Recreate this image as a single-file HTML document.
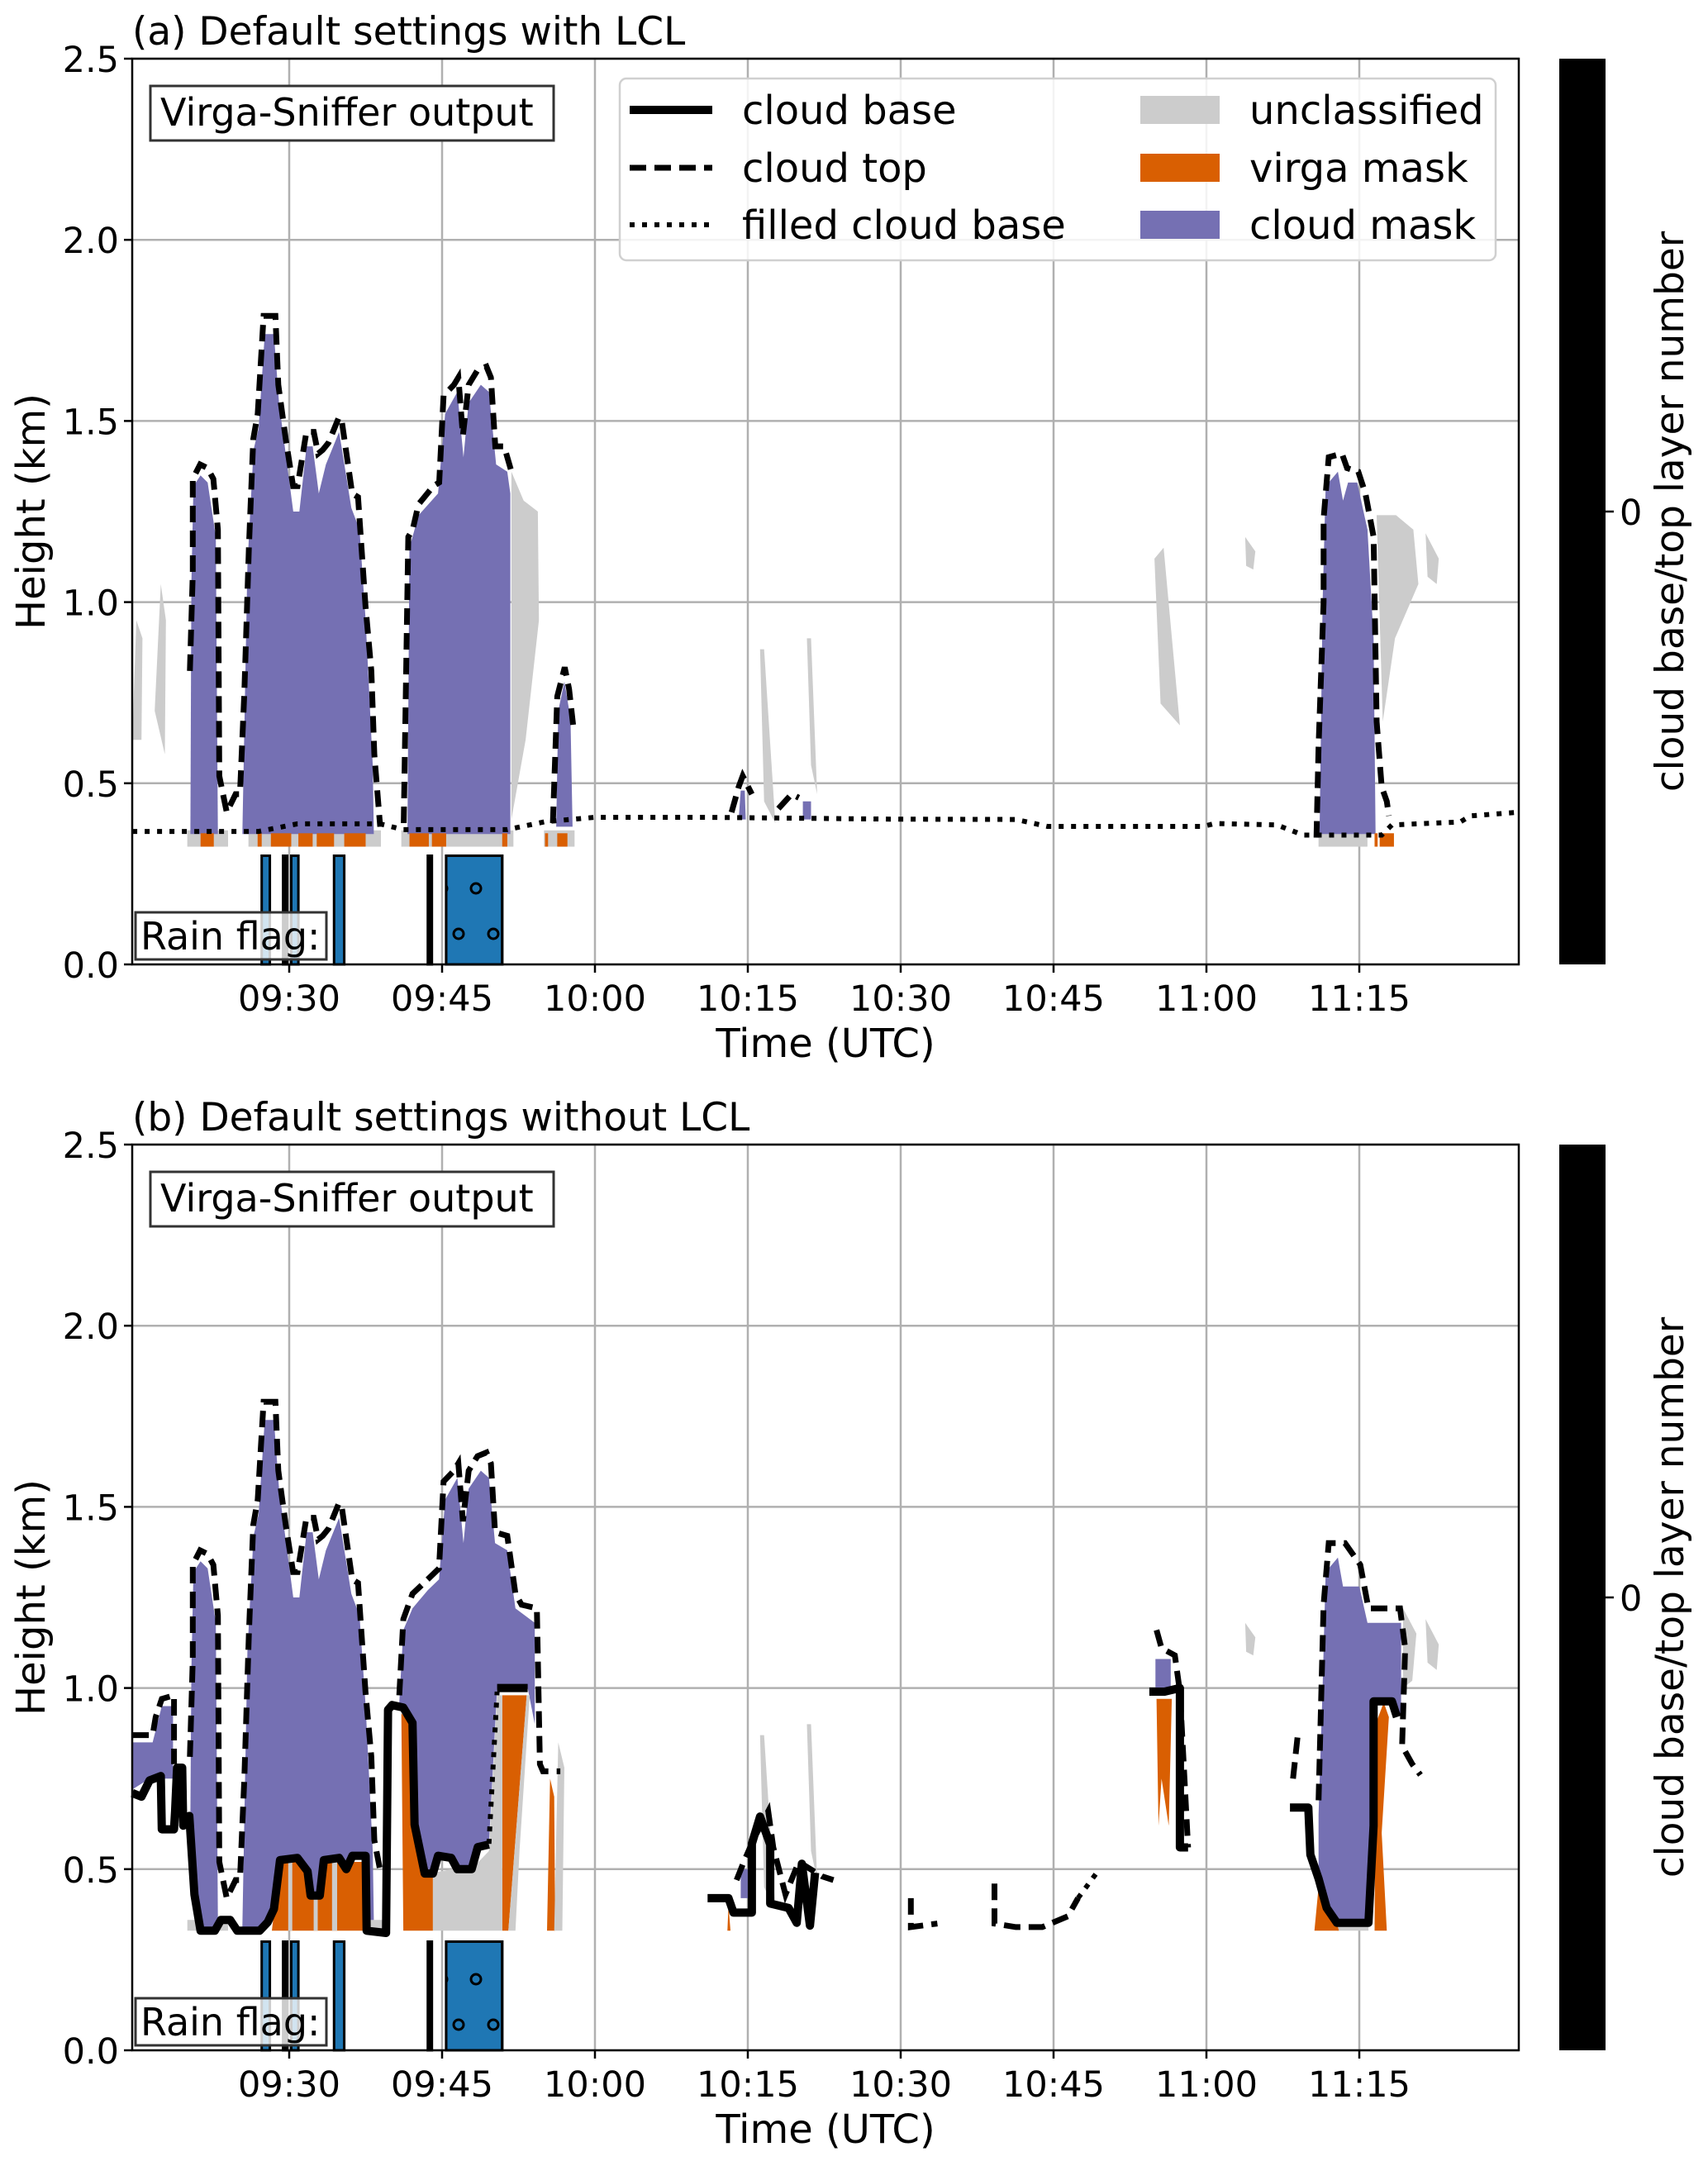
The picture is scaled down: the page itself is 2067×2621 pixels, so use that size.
<!DOCTYPE html>
<html><head><meta charset="utf-8"><style>
html,body{margin:0;padding:0;background:#fff;}
svg{display:block;font-family:"DejaVu Sans","Liberation Sans",sans-serif;}
</style></head><body>
<svg id="fig" width="2067" height="2621" viewBox="0 0 2067 2621" xmlns="http://www.w3.org/2000/svg">
<defs>
<pattern id="dots" width="84" height="110" patternUnits="userSpaceOnUse" x="535" y="0">
<circle cx="20" cy="30" r="6" fill="none" stroke="#000" stroke-width="3"/>
<circle cx="62" cy="30" r="6" fill="none" stroke="#000" stroke-width="3"/>
<circle cx="41" cy="85" r="6" fill="none" stroke="#000" stroke-width="3"/>
<circle cx="0" cy="85" r="6" fill="none" stroke="#000" stroke-width="3"/>
<circle cx="84" cy="85" r="6" fill="none" stroke="#000" stroke-width="3"/>
</pattern>
</defs>
</svg>
<script>
// ---------- data (time in minutes after 09:00, height in km) ----------
const xTickVals = [30,45,60,75,90,105,120,135];
const xTickLabels = ["09:30","09:45","10:00","10:15","10:30","10:45","11:00","11:15"];
const yTickVals = [0,0.5,1.0,1.5,2.0,2.5];
const yTickLabels = ["0.0","0.5","1.0","1.5","2.0","2.5"];

// panel a
const topA = [
 [[20.25,0.81],[20.54,1.08],[20.54,1.34],[21.26,1.38],[21.98,1.37],[22.56,1.34],[23.0,1.20],[23.14,0.52],[23.87,0.42],[24.74,0.47],[25.17,0.47],[25.6,0.75],[26.04,1.15],[26.47,1.45],[26.91,1.52],[27.49,1.79],[28.65,1.79],[28.93,1.60],[29.66,1.45],[30.38,1.32],[30.82,1.32],[31.69,1.47],[32.41,1.47],[32.84,1.41],[33.28,1.42],[33.86,1.44],[34.87,1.51],[35.16,1.50],[36.18,1.30],[36.75,1.29],[37.48,0.99],[38.06,0.81],[38.35,0.58],[38.93,0.38]],
 [[41.24,0.39],[41.68,1.18],[42.11,1.20],[42.69,1.27],[43.56,1.30],[44.14,1.32],[44.72,1.33],[45.15,1.57],[46.17,1.60],[46.6,1.62],[47.04,1.46],[47.61,1.60],[48.48,1.64],[49.35,1.65],[49.79,1.62],[50.22,1.43],[51.09,1.43],[51.81,1.36]],
 [[55.87,0.39],[56.3,0.74],[57.03,0.82],[57.46,0.76],[57.9,0.65]],
 [[73.4,0.42],[74.1,0.49],[74.5,0.52],[75.4,0.47]],
 [[78,0.43],[79.3,0.47],[80,0.46]],
 [[130.8,0.35],[131.0,0.60],[131.5,1.0],[131.5,1.23],[132.0,1.40],[133.3,1.41],[133.8,1.37],[134.9,1.36],[135.6,1.30],[136.4,1.18],[136.7,0.67],[137.2,0.49],[137.7,0.45],[137.9,0.41]]
];
const maskA = [
 [[20.3,0.36],[20.4,1.05],[20.6,1.32],[21.3,1.35],[22,1.33],[22.8,1.18],[23.0,0.36]],
 [[25.4,0.36],[25.9,1.1],[26.5,1.42],[27.0,1.48],[27.6,1.74],[28.5,1.74],[29.0,1.55],[29.7,1.40],[30.4,1.25],[31.0,1.25],[31.7,1.43],[32.3,1.43],[32.9,1.30],[33.6,1.38],[34.9,1.47],[36.1,1.26],[36.9,1.2],[37.5,0.95],[38.2,0.55],[38.3,0.36]],
 [[41.6,0.36],[41.8,1.15],[42.7,1.24],[44.6,1.30],[45.3,1.52],[46.5,1.58],[47.1,1.40],[47.6,1.55],[48.8,1.6],[49.6,1.58],[50.3,1.38],[51.4,1.36],[51.7,1.3],[51.7,0.36]],
 [[56.2,0.38],[56.4,0.7],[57.0,0.78],[57.6,0.68],[57.8,0.38]],
 [[131.1,0.36],[131.4,1.0],[131.7,1.32],[132.9,1.36],[133.4,1.28],[133.9,1.33],[134.8,1.33],[135.8,1.20],[136.4,0.9],[136.6,0.36]],
 [[74.1,0.40],[74.3,0.48],[74.7,0.48],[74.8,0.40]],
 [[80.4,0.40],[80.4,0.45],[81.2,0.45],[81.2,0.40]]
];
const filledBaseA = [[14.6,0.367],[27,0.367],[30.8,0.388],[38.9,0.388],[41.2,0.372],[51.4,0.372],[55.1,0.394],[60,0.406],[71,0.406],[89,0.401],[101.3,0.40],[104.4,0.381],[119.7,0.381],[120.8,0.389],[126.9,0.385],[129.5,0.357],[137.2,0.357],[138.2,0.385],[144.9,0.393],[145.9,0.41],[150.6,0.42]];
const virgaA = [[21.3,22.6],[26.9,27.3],[28.2,30.2],[30.9,32.3],[32.7,34.4],[35.4,37.5],[41.8,43.7],[44.0,45.4],[50.9,51.4],[55.1,55.4],[56.3,57.3],[136.5,136.8],[137.0,138.4]];
const greyStripA = [[20,24],[26,39],[41,52],[55,58],[131,135.8]];
const greyPatchA = [
 [[14.6,0.62],[15.0,0.95],[15.6,0.90],[15.5,0.62]],
 [[16.8,0.70],[17.4,1.05],[17.9,0.95],[17.8,0.58]],
 [[51.8,1.36],[53.0,1.28],[54.4,1.25],[54.5,0.95],[53.2,0.62],[51.8,0.40]],
 [[76.2,0.87],[76.6,0.87],[77.7,0.39],[76.6,0.45]],
 [[80.8,0.90],[81.2,0.90],[81.8,0.47],[81.2,0.55]],
 [[114.9,1.12],[115.8,1.15],[117.4,0.66],[115.5,0.72]],
 [[123.8,1.18],[124.8,1.14],[124.6,1.09],[123.9,1.10]],
 [[136.7,1.24],[138.6,1.24],[140.3,1.20],[140.8,1.05],[138.5,0.90],[137.3,0.67]],
 [[141.5,1.19],[142.8,1.12],[142.6,1.05],[141.7,1.07]]
];

// panel b
const topB = [
 [[14.6,0.87],[16.6,0.87],[16.9,0.92],[17.5,0.97],[18.7,0.98],[18.7,0.79]],
 [[20.25,0.81],[20.54,1.08],[20.54,1.34],[21.26,1.38],[21.98,1.37],[22.56,1.34],[23.0,1.20],[23.14,0.52],[23.87,0.42],[24.74,0.47],[25.17,0.47],[25.6,0.75],[26.04,1.15],[26.47,1.45],[26.91,1.52],[27.49,1.79],[28.65,1.79],[28.93,1.60],[29.66,1.45],[30.38,1.32],[30.82,1.32],[31.69,1.47],[32.41,1.47],[32.84,1.41],[33.28,1.42],[33.86,1.44],[34.87,1.51],[35.16,1.50],[36.18,1.30],[36.75,1.29],[37.48,0.99],[38.06,0.81],[38.35,0.58],[38.9,0.50]],
 [[40.8,0.98],[41.2,1.19],[42.1,1.26],[43.6,1.30],[44.7,1.33],[45.15,1.57],[46.17,1.60],[46.6,1.62],[47.04,1.46],[47.61,1.60],[48.48,1.64],[49.35,1.65],[49.79,1.62],[50.2,1.43],[51.4,1.42],[52.2,1.26],[52.8,1.23],[54.3,1.22],[54.6,0.79],[54.9,0.77],[56.6,0.77]],
 [[73.9,0.47],[74.6,0.52],[75.7,0.59],[77,0.66],[77.5,0.56],[78.7,0.43],[80,0.52],[82.3,0.48],[83.4,0.47]],
 [[91,0.42],[91,0.34],[93.6,0.35]],
 [[99.2,0.46],[99.2,0.35],[101.3,0.34],[103.9,0.34],[106.4,0.37],[107.4,0.42]],
 [[115.1,1.16],[115.6,1.11],[116.9,1.09],[117.4,0.99],[118.2,0.56]],
 [[128.5,0.75],[129,0.88]],
 [[131,0.69],[131.5,1.23],[132,1.40],[133.6,1.40],[135.1,1.34],[135.9,1.22],[136.7,1.22],[139,1.22],[139.5,1.11],[139.2,0.84],[140.2,0.79],[141,0.76]]
];
const baseB = [
 [[14.6,0.71],[15.5,0.70],[16.3,0.745],[17.4,0.757],[17.5,0.61],[18.7,0.61],[18.8,0.66],[19,0.78],[19.5,0.78],[19.6,0.62],[20.2,0.647],[20.7,0.43],[21.3,0.33],[22.7,0.33],[23.3,0.36],[24.2,0.36],[24.9,0.33],[27.1,0.33],[27.9,0.354],[28.5,0.39],[29.1,0.525],[30.8,0.531],[31.8,0.494],[32.1,0.427],[33,0.427],[33.4,0.525],[34.9,0.531],[35.6,0.50],[36.2,0.537],[37.5,0.537],[37.6,0.33],[39.5,0.324],[39.7,0.94],[40.1,0.953],[41.2,0.946],[42.1,0.904],[42.3,0.623],[43.3,0.488],[44.1,0.488],[44.6,0.537],[45.9,0.531],[46.5,0.50],[47.9,0.50],[48.5,0.561],[49.6,0.568]],
 [[50.4,1.0],[53.4,1.0]],
 [[71.05,0.42],[73.1,0.42],[73.6,0.38],[75.4,0.38],[75.4,0.57],[76.2,0.645],[77.2,0.568],[77.2,0.405],[79,0.393],[79.8,0.352],[80.3,0.515],[81.1,0.344],[81.6,0.49]],
 [[114.4,0.99],[115.9,0.99],[117.4,1.0],[117.4,0.56],[118.2,0.56]],
 [[128.2,0.67],[130,0.67],[130.2,0.54],[131,0.474],[131.8,0.393],[132.8,0.352],[135.9,0.352],[136.4,0.62],[136.4,0.963],[138.2,0.963],[138.7,0.92]]
];
const filledBaseB = [
 [[49.6,0.57],[50.4,0.99]],
 [[107.4,0.42],[109.5,0.50]]
];
const maskB = [
 [[14.6,0.85],[16.6,0.85],[17.5,0.95],[18.6,0.95],[18.6,0.75],[17.5,0.75],[16.3,0.75],[14.6,0.72]],
 [[20.3,0.65],[20.4,1.05],[20.6,1.32],[21.3,1.35],[22,1.33],[22.8,1.18],[23.0,0.36],[22.7,0.34],[21.3,0.34],[20.7,0.43]],
 [[25.4,0.34],[25.9,1.1],[26.5,1.42],[27.0,1.48],[27.6,1.74],[28.5,1.74],[29.0,1.55],[29.7,1.40],[30.4,1.25],[31.0,1.25],[31.7,1.43],[32.3,1.43],[32.9,1.30],[33.6,1.38],[34.9,1.47],[36.1,1.26],[36.9,1.2],[37.5,0.95],[38.2,0.55],[38.3,0.36],[37.5,0.34],[37.5,0.54],[36.2,0.54],[35.6,0.50],[34.9,0.53],[33.4,0.53],[33,0.43],[32.1,0.43],[31.8,0.49],[30.8,0.53],[29.1,0.53],[28.5,0.39],[27.9,0.35],[27.1,0.34]],
 [[40.8,0.96],[41.2,1.16],[42.1,1.22],[43.6,1.27],[44.7,1.30],[45.3,1.52],[46.5,1.58],[47.1,1.40],[47.6,1.55],[48.8,1.6],[49.6,1.58],[50.2,1.40],[51.4,1.38],[52.2,1.22],[54.1,1.18],[54.1,0.90],[53.4,1.0],[50.4,1.0],[49.6,0.57],[48.5,0.56],[47.9,0.50],[46.5,0.50],[45.9,0.53],[44.6,0.53],[44.1,0.49],[43.3,0.49],[42.3,0.62],[42.1,0.90],[41.2,0.95]],
 [[74.3,0.42],[74.3,0.50],[75.0,0.50],[75.0,0.42]],
 [[115.0,1.0],[115.0,1.08],[116.5,1.08],[116.5,0.99]],
 [[131.0,0.65],[131.4,1.0],[131.7,1.32],[132.9,1.36],[133.4,1.28],[135.0,1.28],[135.8,1.18],[136.7,1.18],[139.1,1.18],[139.1,0.92],[138.2,0.96],[136.4,0.96],[136.4,0.62],[135.9,0.36],[132.8,0.36],[131.8,0.40],[131,0.47]]
];
const virgaB = [
 [[28.3,0.33],[28.8,0.45],[29.1,0.52],[30.8,0.52],[31.8,0.49],[32.1,0.43],[33,0.43],[33.4,0.52],[37.5,0.52],[37.5,0.33]],
 [[41.2,0.33],[41.0,0.93],[42.0,0.90],[42.3,0.62],[43.3,0.49],[44.1,0.49],[44.1,0.33]],
 [[50.9,0.33],[50.9,0.98],[53.3,0.98],[51.5,0.33]],
 [[55.3,0.33],[55.6,0.75],[56.0,0.70],[56.1,0.33]],
 [[115.1,0.97],[116.6,0.97],[116.3,0.62],[115.6,0.75],[115.3,0.62]],
 [[130.6,0.33],[131.0,0.45],[131.8,0.38],[132.8,0.35],[133,0.33]],
 [[136.5,0.33],[136.6,0.9],[137.4,0.96],[137.9,0.92],[137.2,0.6],[137.7,0.33]],
 [[73.0,0.33],[73.1,0.40],[73.3,0.33]]
];
const greyB = [
 [[44.1,0.33],[44.1,0.49],[46,0.50],[47.9,0.50],[49.6,0.55],[50.4,0.98],[50.9,0.98],[50.9,0.33]],
 [[51.5,0.33],[53.3,0.98],[53.6,0.98],[52.6,0.55],[52.2,0.33]],
 [[29.9,0.33],[29.9,0.52],[30.3,0.52],[30.3,0.33]],
 [[32.4,0.33],[32.4,0.43],[32.8,0.43],[32.8,0.33]],
 [[34.2,0.33],[34.2,0.52],[34.7,0.52],[34.7,0.33]],
 [[37.5,0.33],[37.5,0.36],[39.5,0.36],[39.5,0.33]],
 [[56.0,0.33],[56.4,0.85],[57.0,0.78],[56.8,0.33]],
 [[76.2,0.87],[76.6,0.87],[77.7,0.39],[76.6,0.45]],
 [[80.8,0.90],[81.2,0.90],[81.8,0.47],[81.2,0.55]],
 [[123.8,1.18],[124.8,1.14],[124.6,1.09],[123.9,1.10]],
 [[139.3,1.22],[140.6,1.15],[140.2,1.02],[139.3,1.0]],
 [[141.5,1.19],[142.8,1.12],[142.6,1.05],[141.7,1.07]],
 [[132.8,0.33],[132.8,0.36],[135.9,0.36],[135.9,0.33]],
 [[20,0.33],[20,0.36],[24,0.36],[24,0.33]]
];
const rainBars = [[27.3,28.1],[29.4,29.8],[30.2,30.9],[34.4,35.4],[43.6,44.0],[45.4,50.9]];
const rainTop = 0.3;

// ---------- drawing ----------
const NS = "http://www.w3.org/2000/svg";
const svg = document.getElementById("fig");
const X0 = 160, X1 = 1838;
function xs(t){ return 350 + (t-30)*185/15; }
function mk(tag, attrs, parent){
  const e = document.createElementNS(NS, tag);
  for (const k in attrs) e.setAttribute(k, attrs[k]);
  (parent||svg).appendChild(e);
  return e;
}
function txt(s, attrs, parent){ const e = mk("text", attrs, parent); e.textContent = s; return e; }

function panel(off, label, letter, d){
  const yB = 1167+off, yT = 71+off;
  const ys = h => yB - h*438.4;
  const g = mk("g", {});
  
  
  const pts = arr => arr.map(p => xs(p[0]).toFixed(1)+","+ys(p[1]).toFixed(1)).join(" ");
  xTickVals.forEach(v => {
    const l = mk("line", {x1:xs(v),x2:xs(v),y1:yT,y2:yB,stroke:"#b0b0b0","stroke-width":2.5}, g);
    
    
  });
  yTickVals.forEach(v => {
    const l = mk("line", {x1:X0,x2:X1,y1:ys(v),y2:ys(v),stroke:"#b0b0b0","stroke-width":2.5}, g);
    
    
  });
  d.greyStrips.forEach(s => {
    const r = mk("rect", {x:xs(s[0]),width:xs(s[1])-xs(s[0]),y:ys(0.37),height:ys(0.325)-ys(0.37),fill:"#cccccc"}, g);
    
    
  });
  d.grey.forEach(p => {
    const e = mk("polygon", {points:pts(p),fill:"#cccccc"}, g);
    
    
  });
  d.mask.forEach(p => {
    const e = mk("polygon", {points:pts(p),fill:"#7570b3"}, g);
    
    
  });
  d.virgaRects.forEach(s => {
    const r = mk("rect", {x:xs(s[0]),width:xs(s[1])-xs(s[0]),y:ys(0.362),height:ys(0.325)-ys(0.362),fill:"#d95f02"}, g);
    
    
  });
  d.virgaPolys.forEach(p => {
    const e = mk("polygon", {points:pts(p),fill:"#d95f02"}, g);
    
    
  });
  d.greyOver.forEach(p => {
    const e = mk("polygon", {points:pts(p),fill:"#cccccc"}, g);
    
    
  });
  d.filled.forEach(s => {
    const e = mk("polyline", {points:pts(s),fill:"none",stroke:"#000","stroke-width":6,"stroke-dasharray":"6,9"}, g);
    
    
  });
  d.base.forEach(s => {
    const e = mk("polyline", {points:pts(s),fill:"none",stroke:"#000","stroke-width":10,"stroke-linejoin":"round"}, g);
    
    
  });
  d.top.forEach(s => {
    const e = mk("polyline", {points:pts(s),fill:"none",stroke:"#000","stroke-width":7,"stroke-dasharray":"20,10"}, g);
    
    
  });
  rainBars.forEach((b,i) => {
    const fill = (b[1]-b[0] < 0.5) ? "#000" : "#1f77b4";
    const r = mk("rect", {x:xs(b[0]),width:xs(b[1])-xs(b[0]),y:ys(rainTop),height:yB-ys(rainTop),fill:fill,stroke:"#000","stroke-width":3}, g);
    
    
    if (i === rainBars.length-1){
      const h = mk("rect", {x:xs(b[0]),width:xs(b[1])-xs(b[0]),y:ys(rainTop),height:yB-ys(rainTop),fill:"url(#dots)",stroke:"#000","stroke-width":3}, g);
      
      
    }
  });
  const rb = mk("rect", {x:164,y:yB-63,width:231,height:57,fill:"#fff","fill-opacity":0.8,stroke:"#333","stroke-width":3}, g);
  
  
  const rt = txt("Rain flag:", {x:170,y:yB-18,"font-size":46,fill:"#000"}, g);
  
  
  const vb = mk("rect", {x:182,y:off+104,width:488,height:66,fill:"#fff",stroke:"#333","stroke-width":3}, g);
  
  
  const vt = txt("Virga-Sniffer output", {x:194,y:off+152,"font-size":46,fill:"#000"}, g);
  
  
  const sp = mk("rect", {x:X0,y:yT,width:X1-X0,height:yB-yT,fill:"none",stroke:"#000","stroke-width":2.5}, g);
  
  
  xTickVals.forEach((v,i) => {
    const l = mk("line", {x1:xs(v),x2:xs(v),y1:yB,y2:yB+10,stroke:"#000","stroke-width":2.5}, g);
    
    
    const t = txt(xTickLabels[i], {x:xs(v),y:yB+56,"font-size":43,"text-anchor":"middle",fill:"#000"}, g);
    
    
  });
  yTickVals.forEach((v,i) => {
    const l = mk("line", {x1:X0-10,x2:X0,y1:ys(v),y2:ys(v),stroke:"#000","stroke-width":2.5}, g);
    
    
    const t = txt(yTickLabels[i], {x:X0-16,y:ys(v)+16,"font-size":43,"text-anchor":"end",fill:"#000"}, g);
    
    
  });
  const xl = txt("Time (UTC)", {x:(X0+X1)/2,y:yB+112,"font-size":48,"text-anchor":"middle",fill:"#000"}, g);
  
  
  const yl = txt("Height (km)", {x:0,y:0,"font-size":48,"text-anchor":"middle",fill:"#000",transform:"translate(54,"+((yT+yB)/2)+") rotate(-90)"}, g);
  
  
  const ti = txt(label, {x:160,y:off+54,"font-size":47,fill:"#000"}, g);
  
  
  const cb = mk("rect", {x:1887,y:yT,width:56,height:yB-yT,fill:"#000"}, g);
  
  
  const ym = (yT+yB)/2;
  const ct = mk("line", {x1:1943,x2:1953,y1:ym,y2:ym,stroke:"#000","stroke-width":2.5}, g);
  
  
  const cl = txt("0", {x:1960,y:ym+16,"font-size":43,fill:"#000"}, g);
  
  
  const cbt = txt("cloud base/top layer number", {x:0,y:0,"font-size":47,"text-anchor":"middle",fill:"#000",transform:"translate(2037,"+ym+") rotate(-90)"}, g);
  
  
  return g;
}

panel(0, "(a) Default settings with LCL", "a", {
  greyStrips: greyStripA, grey: greyPatchA, mask: maskA, virgaRects: virgaA, virgaPolys: [], greyOver: [],
  filled: [filledBaseA], base: [], top: topA
});
panel(1314, "(b) Default settings without LCL", "b", {
  greyStrips: [], grey: greyB.slice(7), mask: maskB, virgaRects: [], virgaPolys: virgaB, greyOver: greyB.slice(0,7),
  filled: filledBaseB, base: baseB, top: topB
});

const lg = mk("g", {});


const lbox = mk("rect", {x:750,y:95,width:1060,height:220,rx:8,fill:"#fff","fill-opacity":0.85,stroke:"#d0d0d0","stroke-width":2.5}, lg);


const legLines = [["cloud base","none",10],["cloud top","20,10",7],["filled cloud base","6,9",6]];
const legRows = [133, 203, 272];
legLines.forEach((L,i) => {
  const l = mk("line", {x1:762,x2:862,y1:legRows[i],y2:legRows[i],stroke:"#000","stroke-width":L[2],"stroke-dasharray":L[1]}, lg);
  
  
  const t = txt(L[0], {x:898,y:legRows[i]+17,"font-size":48,fill:"#000"}, lg);
  
  
});
const legPatches = [["unclassified","#cccccc"],["virga mask","#d95f02"],["cloud mask","#7570b3"]];
legPatches.forEach((P,i) => {
  const r = mk("rect", {x:1380,y:legRows[i]-17,width:96,height:34,fill:P[1]}, lg);
  
  
  const t = txt(P[0], {x:1512,y:legRows[i]+17,"font-size":48,fill:"#000"}, lg);
  
  
});
</script>
</body></html>
